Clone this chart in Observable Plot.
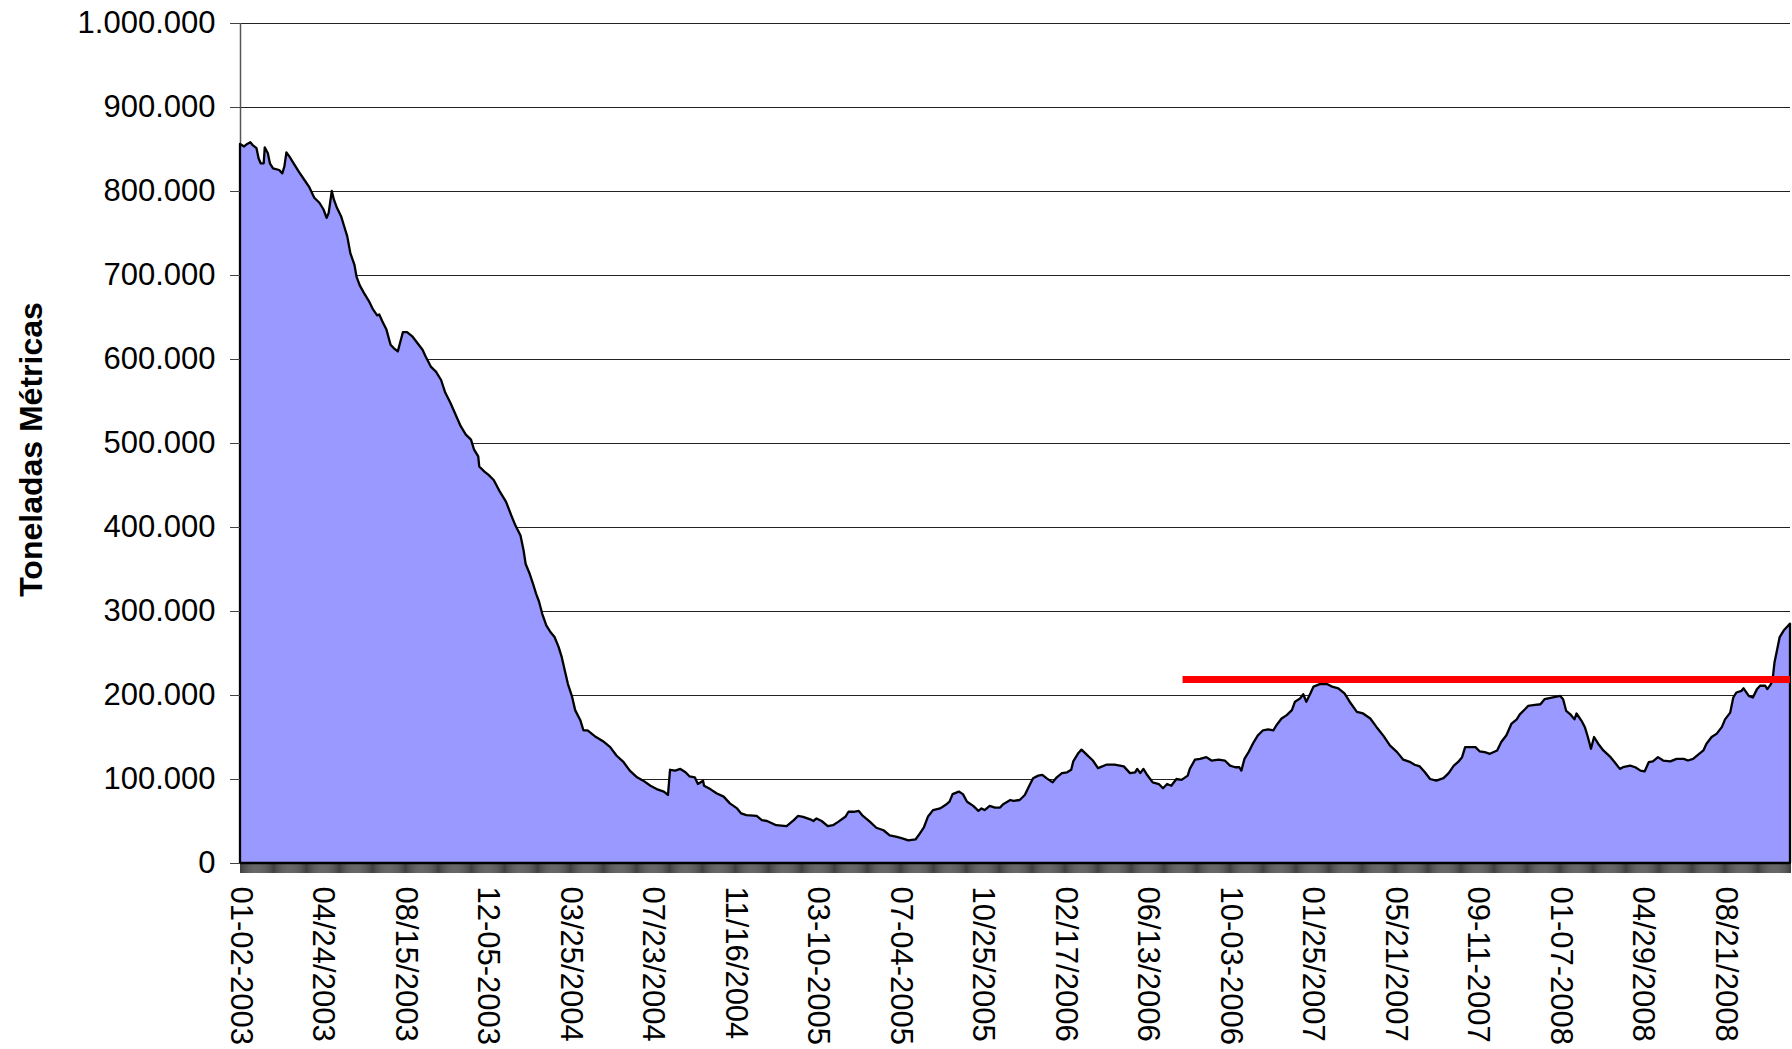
<!DOCTYPE html>
<html><head><meta charset="utf-8">
<script src="https://cdn.jsdelivr.net/npm/d3@7"></script>
<script src="https://cdn.jsdelivr.net/npm/@observablehq/plot@0.6"></script>
<style>html,body{margin:0;padding:0;background:#fff;}</style>
</head><body><div id="chart"></div>
<script>
// trading-day index (category position) of each traced point
const days = [0,4,7,10,12,16,18,20,23,24,27,29,32,38,41,43,45,48,52,57,62,67,72,77,81,84,86,89,91,94,98,101,104,107,111,113,116,120,125,129,133,135,138,142,146,149,153,156,158,162,167,172,177,180,185,190,195,199,204,209,214,219,224,227,231,232,237,241,246,
252,258,263,267,272,275,277,281,284,287,290,293,297,301,305,309,312,315,318,322,325,330,333,337,344,352,359,365,372,378,385,391,398,404,411,415,417,422,427,432,436,441,444,449,450,456,462,469,475,482,486,491,501,506,511,520,
530,537,541,546,553,556,559,564,570,575,580,587,590,595,600,604,611,617,624,630,637,643,648,655,658,663,667,672,679,684,688,691,697,701,705,711,716,719,722,727,732,737,740,747,750,756,761,765,769,774,778,782,788,792,797,802,806,808,813,816,821,827,832,
840,848,857,863,868,870,873,876,879,885,891,895,899,903,908,913,919,921,926,931,937,942,949,955,960,965,969,971,974,978,983,987,992,997,1002,1005,1010,1015,1020,1023,1028,1031,1034,1038,1041,1047,1054,1059,1065,1071,1076,1083,1089,1096,1102,1109,1115,1122,1128,1135,1139,1144,1149,1154,
1160,1167,1172,1177,1181,1185,1188,1193,1198,1202,1207,1212,1219,1223,1228,1233,1238,1241,1246,1249,1254,1261,1265,1272,1280,1283,1286,1290,1294,1296,1301,1304,1307,1310,1313,1317,1322,1329,1333,1338,1341,1348,1353,1358,1362,1366,1370,1375,1380,1387,1393,1400,1404,1409,1414,1419,1422,1427,1432,1437,1440,1445,1448,1451,1456,1458,1463,1467,1471,1474,1479,1481,1484,1486,1488,1490,1493,1497,1500,1503];
// stocks in metric tonnes
const tonnes = [856000,853000,856000,858000,855000,851000,839000,833000,833000,852000,845000,833000,827000,825000,821000,829000,846000,841000,833000,823000,814000,805000,792000,786000,778000,768000,774000,800000,790000,780000,770000,758000,746000,726000,712000,698000,688000,679000,669000,659000,652000,653000,645000,635000,617000,613000,609000,623000,632000,632000,627000,619000,611000,603000,591000,585000,575000,560000,548000,534000,520000,510000,504000,492000,484000,472000,466000,462000,456000,
442000,430000,414000,402000,390000,372000,356000,344000,333000,321000,311000,297000,283000,275000,269000,257000,245000,229000,213000,198000,182000,170000,158000,158000,151000,145000,138000,128000,120000,110000,102000,98000,92000,88000,85000,81000,111000,110000,112000,108000,103000,102000,94000,98000,92000,88000,83000,79000,71000,65000,59000,57000,56000,51000,50000,45000,
44000,51000,56000,55000,52000,50000,53000,50000,44000,45000,49000,55000,61000,61000,62000,56000,49000,42000,39000,33000,31000,29000,27000,28000,33000,42000,55000,63000,65000,69000,73000,82000,85000,82000,73000,68000,62000,65000,63000,68000,66000,66000,70000,75000,74000,75000,81000,91000,101000,104000,105000,101000,96000,102000,107000,108000,111000,121000,131000,135000,129000,122000,113000,
117000,117000,115000,107000,108000,112000,107000,112000,106000,96000,94000,89000,94000,92000,100000,99000,104000,112000,123000,124000,126000,122000,123000,122000,116000,114000,114000,110000,124000,132000,144000,152000,158000,159000,158000,164000,172000,176000,182000,192000,196000,201000,192000,202000,210000,213000,213000,210000,208000,202000,192000,180000,178000,172000,162000,151000,140000,132000,123000,120000,117000,115000,108000,100000,
98000,101000,107000,116000,120000,126000,138000,138000,138000,133000,132000,130000,134000,144000,152000,166000,171000,177000,183000,187000,188000,189000,195000,197000,199000,195000,181000,177000,171000,178000,169000,162000,150000,136000,150000,142000,134000,126000,120000,112000,114000,116000,114000,110000,109000,120000,121000,126000,122000,121000,124000,124000,122000,124000,129000,134000,142000,150000,154000,162000,171000,179000,197000,203000,205000,208000,199000,197000,207000,211000,211000,207000,212000,217000,239000,251000,269000,277000,281000,285000];

const nDays = 1504;
const tickDays = [0,80,160,240,320,400,480,560,640,720,800,880,960,1040,1120,1200,1280,1360,1440];
const tickLabels = ["01-02-2003","04/24/2003","08/15/2003","12-05-2003","03/25/2004","07/23/2004","11/16/2004","03-10-2005","07-04-2005","10/25/2005","02/17/2006","06/13/2006","10-03-2006","01/25/2007","05/21/2007","09-11-2007","01-07-2008","04/29/2008","08/21/2008"];
const yTicks = [0,100000,200000,300000,400000,500000,600000,700000,800000,900000,1000000];
const redLine = [{from: 914, to: 1503, value: 219000}];
const yTitle = "Toneladas Métricas";

const series = days.map((d, i) => ({day: d, t: tonnes[i]}));
const fmt = d3.formatLocale({decimal: ",", thousands: ".", grouping: [3], currency: ["", ""]}).format(",.0f");
const labelOf = new Map(tickDays.map((d, i) => [d, tickLabels[i]]));

const chart = Plot.plot({
  width: 1792, height: 1049,
  marginLeft: 240, marginRight: 2, marginTop: 23, marginBottom: 186,
  style: {fontFamily: "Arial, 'Liberation Sans', sans-serif", background: "#fff", color: "#000", overflow: "visible"},
  x: {domain: [0, nDays - 1]},
  y: {domain: [0, 1000000]},
  marks: [
    Plot.gridY(yTicks, {stroke: "#222", strokeOpacity: 1, strokeWidth: 1}),
    Plot.ruleX([0], {stroke: "#555", strokeWidth: 1.5}),
    Plot.areaY(series, {x: "day", y: "t", fill: "#9999ff", stroke: "#000", strokeWidth: 2.3}),
    Plot.ruleY(redLine, {y: "value", x1: "from", x2: "to", stroke: "#ff0000", strokeWidth: 7}),
    Plot.axisY({ticks: yTicks, tickSize: 10, tickPadding: 15, tickFormat: fmt, fontSize: 31, label: null, stroke: "#444"}),
    Plot.axisX({ticks: d3.range(nDays), tickSize: 10, fill: "none", label: null, strokeOpacity: 0.75}),
    Plot.axisX({ticks: tickDays, tickSize: 0, tickPadding: 23, tickRotate: 90, tickFormat: d => labelOf.get(d), fontSize: 31, label: null}),
    Plot.text([yTitle], {text: d => d, frameAnchor: "left", textAnchor: "middle", dx: -199, dy: 6, rotate: -90, lineAnchor: "bottom", fontSize: 32, fontWeight: "bold"})
  ]
});
document.getElementById("chart").appendChild(chart);
</script>
</body></html>
